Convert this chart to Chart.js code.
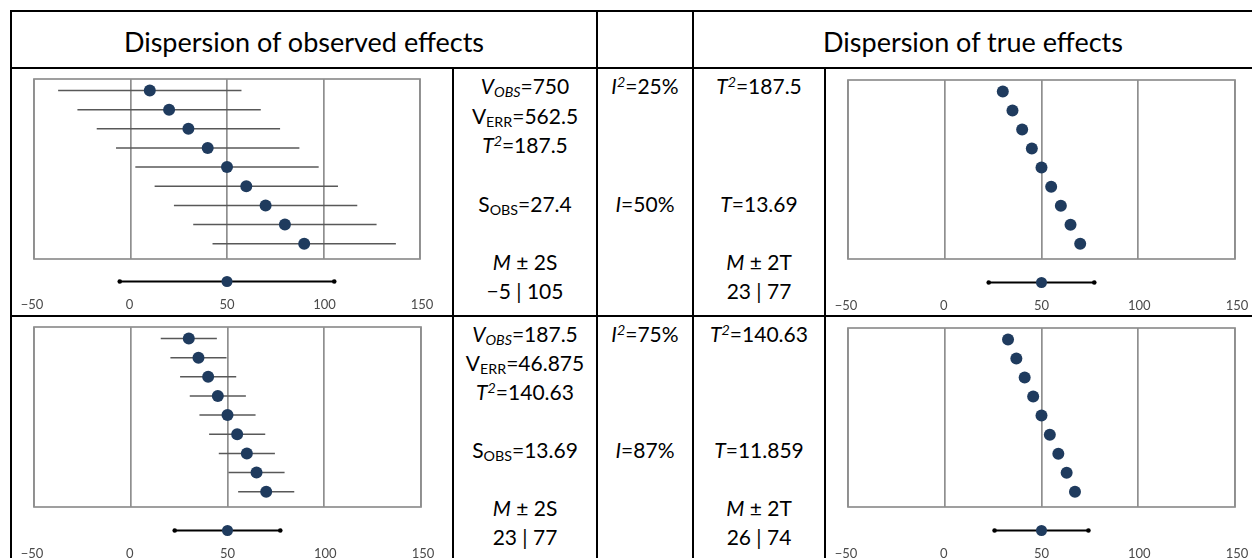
<!DOCTYPE html>
<html>
<head>
<meta charset="utf-8">
<script src="https://cdn.jsdelivr.net/npm/chart.js@4.4.1/dist/chart.umd.min.js"></script>
<style>
  html, body { margin: 0; padding: 0; background: #fff; }
  body { width: 1252px; height: 558px; position: relative; overflow: hidden;
         font-family: Lato, "Open Sans", sans-serif; color: #000; }
  .rule { position: absolute; background: #000; }
  .head { position: absolute; text-align: center; font-size: 27px; line-height: 40px; height: 40px; white-space: nowrap; }
  .cell { position: absolute; text-align: center; font-size: 21px; white-space: nowrap; }
  .r1 div { height: 29.3px; line-height: 29.3px; }
  .r2 div { height: 29.06px; line-height: 29.06px; }
  sub, sup { font-size: 0.68em; line-height: 0; }
  sub { vertical-align: -0.22em; }
  sup { vertical-align: 0.48em; }
  canvas { position: absolute; }
</style>
</head>
<body>

<!-- table rules -->
<div class="rule" style="left:10px;top:10px;width:1242px;height:2px"></div>
<div class="rule" style="left:10px;top:10px;width:2px;height:548px"></div>
<div class="rule" style="left:10px;top:67px;width:1242px;height:2px"></div>
<div class="rule" style="left:10px;top:315px;width:1242px;height:2px"></div>
<div class="rule" style="left:452px;top:68px;width:2px;height:490px"></div>
<div class="rule" style="left:596px;top:10px;width:2px;height:548px"></div>
<div class="rule" style="left:692px;top:10px;width:2px;height:548px"></div>
<div class="rule" style="left:824px;top:68px;width:2px;height:490px"></div>

<!-- headers -->
<div class="head" style="left:12px;top:22px;width:584px">Dispersion of observed effects</div>
<div class="head" style="left:694px;top:22px;width:558px">Dispersion of true effects</div>

<!-- upper row statistics -->
<div class="cell r1" style="left:454px;top:71.4px;width:142px">
  <div><i>V<sub>OBS</sub></i>=750</div>
  <div>V<sub>ERR</sub>=562.5</div>
  <div><i>T<sup>2</sup></i>=187.5</div>
  <div></div>
  <div>S<sub>OBS</sub>=27.4</div>
  <div></div>
  <div><i>M</i> ± 2S</div>
  <div id="boundsObsA"></div>
</div>
<div class="cell r1" style="left:598px;top:71.4px;width:94px">
  <div><i>I<sup>2</sup></i>=25%</div>
  <div></div><div></div><div></div>
  <div><i>I</i>=50%</div>
</div>
<div class="cell r1" style="left:694px;top:71.4px;width:130px">
  <div><i>T<sup>2</sup></i>=187.5</div>
  <div></div><div></div><div></div>
  <div><i>T</i>=13.69</div>
  <div></div>
  <div><i>M</i> ± 2T</div>
  <div id="boundsTrueA"></div>
</div>

<!-- lower row statistics -->
<div class="cell r2" style="left:454px;top:318.8px;width:142px">
  <div><i>V<sub>OBS</sub></i>=187.5</div>
  <div>V<sub>ERR</sub>=46.875</div>
  <div><i>T<sup>2</sup></i>=140.63</div>
  <div></div>
  <div>S<sub>OBS</sub>=13.69</div>
  <div></div>
  <div><i>M</i> ± 2S</div>
  <div id="boundsObsB"></div>
</div>
<div class="cell r2" style="left:598px;top:318.8px;width:94px">
  <div><i>I<sup>2</sup></i>=75%</div>
  <div></div><div></div><div></div>
  <div><i>I</i>=87%</div>
</div>
<div class="cell r2" style="left:694px;top:318.8px;width:130px">
  <div><i>T<sup>2</sup></i>=140.63</div>
  <div></div><div></div><div></div>
  <div><i>T</i>=11.859</div>
  <div></div>
  <div><i>M</i> ± 2T</div>
  <div id="boundsTrueB"></div>
</div>

<script>
// ---- data ----
const studyRows = [1, 2, 3, 4, 5, 6, 7, 8, 9];
const axisTicks = [-50, 0, 50, 100, 150];

// upper row (I² = 25%)
const observedA     = [10, 20, 30, 40, 50, 60, 70, 80, 90];
const observedLowA  = [-37.5, -27.5, -17.5, -7.5, 2.5, 12.5, 22.5, 32.5, 42.5];
const observedHighA = [57.5, 67.5, 77.5, 87.5, 97.5, 107.5, 117.5, 127.5, 137.5];
const trueA         = [30, 35, 40, 45, 50, 55, 60, 65, 70];

// lower row (I² = 75%)
const observedB     = [30, 35, 40, 45, 50, 55, 60, 65, 70];
const observedLowB  = [15.5, 20.5, 25.5, 30.5, 35.5, 40.5, 45.5, 50.5, 55.5];
const observedHighB = [44.5, 49.5, 54.5, 59.5, 64.5, 69.5, 74.5, 79.5, 84.5];
const trueB         = [32.7, 37.0, 41.3, 45.7, 50, 54.3, 58.7, 63.0, 67.3];

// summary: mean and M ± 2S / M ± 2T
const summaryMean  = 50;
const summaryObsA  = [-5, 105];
const summaryTrueA = [23, 77];
const summaryObsB  = [23, 77];
const summaryTrueB = [26, 74];

// ---- styles ----
const NAVY = '#1f3b5e';
const GRID = '#8f8f8f';
const WHISKER = '#585858';
const TICK_COLOR = '#4a4a4a';
const FONT = 'Lato, "Open Sans", sans-serif';

const fmt = v => (v < 0 ? '\u2212' + Math.abs(v) : String(v));

// interval texts come from the same values that draw the summary lines
document.getElementById('boundsObsA').textContent  = fmt(summaryObsA[0])  + ' | ' + fmt(summaryObsA[1]);
document.getElementById('boundsTrueA').textContent = fmt(summaryTrueA[0]) + ' | ' + fmt(summaryTrueA[1]);
document.getElementById('boundsObsB').textContent  = fmt(summaryObsB[0])  + ' | ' + fmt(summaryObsB[1]);
document.getElementById('boundsTrueB').textContent = fmt(summaryTrueB[0]) + ' | ' + fmt(summaryTrueB[1]);

// frame around the plotting area
const plotFrame = {
  id: 'plotFrame',
  beforeDatasetsDraw(chart, args, opts) {
    const { ctx, chartArea: a } = chart;
    ctx.save();
    ctx.strokeStyle = opts.color;
    ctx.lineWidth = opts.width;
    ctx.strokeRect(a.left, a.top, a.right - a.left, a.bottom - a.top);
    ctx.restore();
  }
};

const setTicks = scale => { scale.ticks = axisTicks.map(v => ({ value: v })); };

function addCanvas(left, top, width, height) {
  const c = document.createElement('canvas');
  c.width = width; c.height = height;
  c.style.left = left + 'px'; c.style.top = top + 'px';
  c.style.width = width + 'px'; c.style.height = height + 'px';
  document.body.appendChild(c);
  return c;
}

const baseOptions = {
  responsive: false, maintainAspectRatio: false, animation: false,
  devicePixelRatio: 1, events: []
};

function forestPlot(box, effects, low, high) {
  const PAD = 4;
  const canvas = addCanvas(box.x - PAD, box.y - PAD, box.w + 2 * PAD, box.h + 2 * PAD);
  const datasets = [{
    data: effects.map((v, i) => ({ x: v, y: studyRows[i] })),
    pointRadius: 6, pointBackgroundColor: NAVY, pointBorderColor: NAVY,
    pointBorderWidth: 0, showLine: false, order: 0
  }];
  if (low) {
    low.forEach((lo, i) => datasets.push({
      data: [{ x: lo, y: studyRows[i] }, { x: high[i], y: studyRows[i] }],
      showLine: true, borderColor: WHISKER, borderWidth: 1.5, pointRadius: 0, order: 1
    }));
  }
  new Chart(canvas, {
    type: 'scatter',
    data: { datasets },
    options: Object.assign({}, baseOptions, {
      layout: { padding: PAD },
      plugins: { legend: { display: false }, tooltip: { enabled: false },
                 plotFrame: { color: GRID, width: 1.7 } },
      scales: {
        x: { type: 'linear', min: -50, max: 150, afterBuildTicks: setTicks,
             ticks: { display: false },
             grid: { color: GRID, lineWidth: 1.7, drawTicks: false },
             border: { display: false } },
        y: { type: 'linear', display: false, reverse: true, min: 0.4, max: 9.8 }
      }
    }),
    plugins: [plotFrame]
  });
}

function summaryStrip(box, sumY, range) {
  const SIDE = 20;
  const canvas = addCanvas(box.x - SIDE, sumY - 12, box.w + 2 * SIDE, 47);
  new Chart(canvas, {
    type: 'scatter',
    data: { datasets: [
      { data: [{ x: summaryMean, y: 0 }], pointRadius: 5.5, pointBackgroundColor: NAVY,
        pointBorderColor: NAVY, pointBorderWidth: 0, showLine: false, order: 0 },
      { data: [{ x: range[0], y: 0 }, { x: range[1], y: 0 }], showLine: true,
        borderColor: '#000', borderWidth: 2, pointRadius: 2.3,
        pointBackgroundColor: '#000', pointBorderWidth: 0, order: 1 }
    ] },
    options: Object.assign({}, baseOptions, {
      layout: { padding: { left: SIDE, right: SIDE, top: 0, bottom: 0 } },
      plugins: { legend: { display: false }, tooltip: { enabled: false } },
      scales: {
        x: { type: 'linear', min: -50, max: 150, afterBuildTicks: setTicks,
             grid: { display: false, drawTicks: false }, border: { display: false },
             ticks: { padding: 7, color: TICK_COLOR, font: { family: FONT, size: 13 },
                      callback: v => fmt(v) } },
        y: { type: 'linear', display: false, min: -1, max: 1 }
      }
    })
  });
}

// ---- panel placement ----
const layout = {
  obsA:  { box: { x: 32,  y: 77,  w: 390, h: 184 }, sumY: 279 },
  trueA: { box: { x: 846, y: 78,  w: 391, h: 183 }, sumY: 280 },
  obsB:  { box: { x: 32,  y: 325, w: 391, h: 184 }, sumY: 528 },
  trueB: { box: { x: 846, y: 326, w: 391, h: 183 }, sumY: 528 }
};

forestPlot(layout.obsA.box, observedA, observedLowA, observedHighA);
summaryStrip(layout.obsA.box, layout.obsA.sumY, summaryObsA);

forestPlot(layout.trueA.box, trueA);
summaryStrip(layout.trueA.box, layout.trueA.sumY, summaryTrueA);

forestPlot(layout.obsB.box, observedB, observedLowB, observedHighB);
summaryStrip(layout.obsB.box, layout.obsB.sumY, summaryObsB);

forestPlot(layout.trueB.box, trueB);
summaryStrip(layout.trueB.box, layout.trueB.sumY, summaryTrueB);
</script>
</body>
</html>
